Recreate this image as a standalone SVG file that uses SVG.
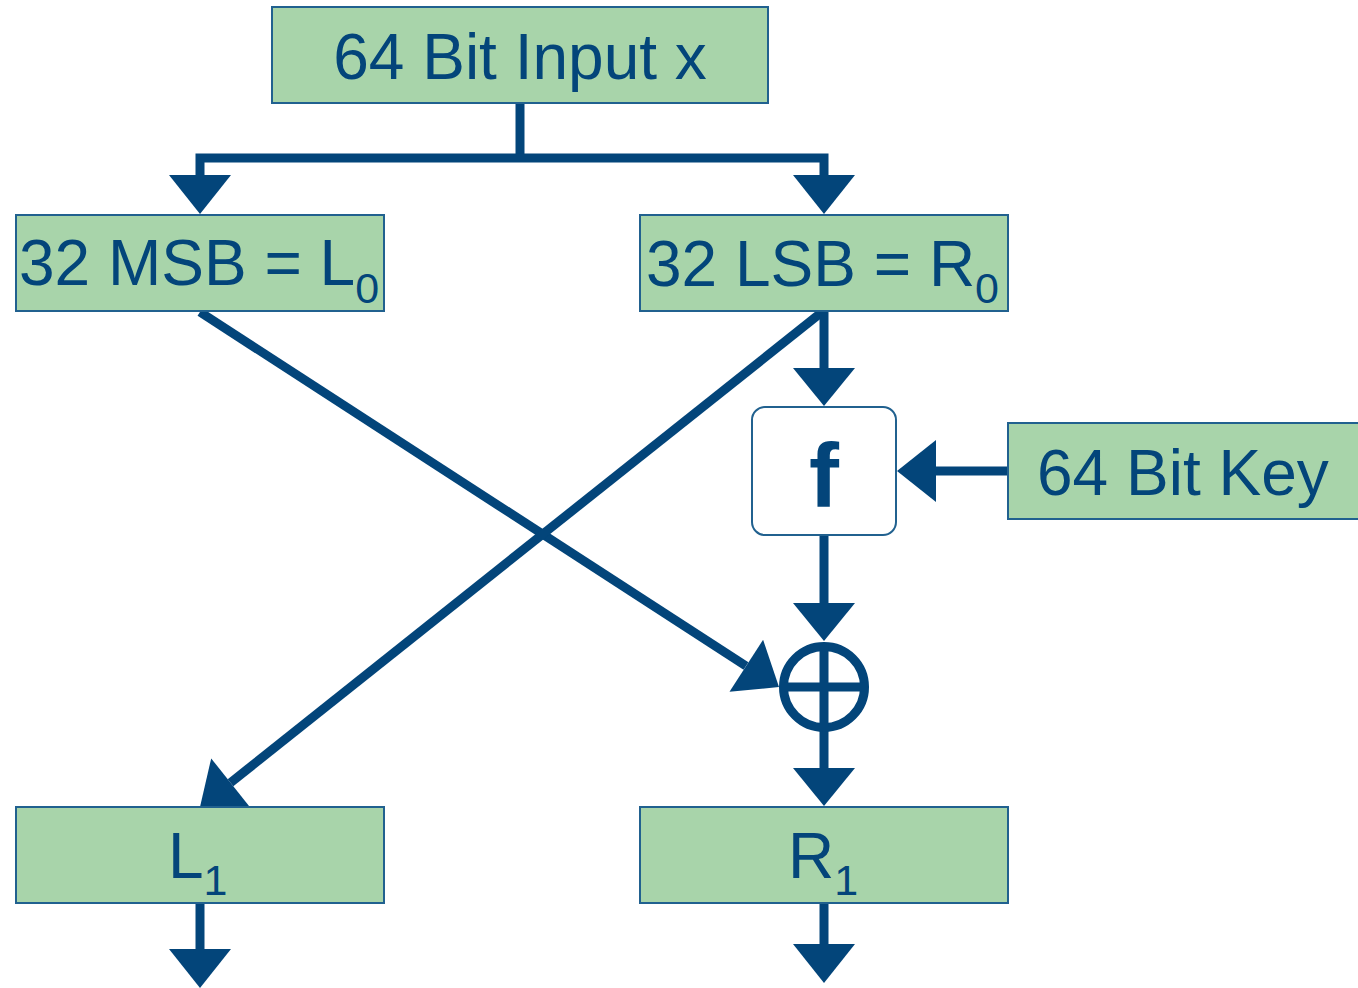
<svg xmlns="http://www.w3.org/2000/svg" width="1358" height="988" viewBox="0 0 1358 988">
<style>
.box{fill:#a8d4aa;stroke:#21618f;stroke-width:2}
.fbox{fill:#ffffff;stroke:#21618f;stroke-width:2}
.t{font-family:"Liberation Sans",Arial,sans-serif;font-size:64px;fill:#03457a}
.sub{font-size:43px}
.ln{fill:none;stroke:#03457a;stroke-width:9;stroke-linejoin:miter}
.ah{fill:#03457a;stroke:none}
</style>
<rect width="1358" height="988" fill="#ffffff"/>
<g id="connectors">
  <path class="ln" d="M520,103 V158"/>
  <path class="ln" d="M200,176 V158 H824 V176"/>
  <polygon class="ah" points="169,175 231,175 200,214"/>
  <polygon class="ah" points="793,175 855,175 824,214"/>
  <path class="ln" d="M200,312 L746,666"/>
  <polygon class="ah" points="779,687 729.5,691.8 763.1,639.8"/>
  <path class="ln" d="M822,312 L230.5,782.7"/>
  <polygon class="ah" points="200,807 249.8,807 211.2,758.4"/>
  <path class="ln" d="M824,311 V369"/>
  <polygon class="ah" points="793,368 855,368 824,406"/>
  <path class="ln" d="M1008,471 H935"/>
  <polygon class="ah" points="936,440 936,502 897,471"/>
  <path class="ln" d="M824,535 V604"/>
  <polygon class="ah" points="793,603 855,603 824,641"/>
  <path class="ln" d="M824,731 V769"/>
  <polygon class="ah" points="793,768 855,768 824,806"/>
  <path class="ln" d="M200,903 V950"/>
  <polygon class="ah" points="169,949 231,949 200,988"/>
  <path class="ln" d="M824,903 V945"/>
  <polygon class="ah" points="793,944 855,944 824,983"/>
</g>
<g id="input">
  <rect class="box" x="272" y="7" width="496" height="96"/>
  <text class="t" x="520" y="79" text-anchor="middle">64 Bit Input x</text>
</g>
<g id="L0">
  <rect class="box" x="16" y="215" width="368" height="96"/>
  <text class="t" x="19" y="285">32 MSB = L<tspan class="sub" dy="18">0</tspan></text>
</g>
<g id="R0">
  <rect class="box" x="640" y="215" width="368" height="96"/>
  <text class="t" x="646" y="286">32 LSB = R<tspan class="sub" dy="17">0</tspan></text>
</g>
<g id="f">
  <rect class="fbox" x="752" y="407" width="144" height="128" rx="13" ry="13"/>
  <text class="t" x="824" y="507" text-anchor="middle" style="font-size:90px;font-weight:bold">f</text>
</g>
<g id="key">
  <rect class="box" x="1008" y="423" width="354" height="96"/>
  <text class="t" x="1037" y="495">64 Bit Key</text>
</g>
<g id="xor">
  <circle cx="824" cy="687" r="40.5" fill="none" stroke="#03457a" stroke-width="9"/>
  <path class="ln" d="M784,687 H864 M824,647 V727"/>
</g>
<g id="L1">
  <rect class="box" x="16" y="807" width="368" height="96"/>
  <text class="t" x="168" y="878">L<tspan class="sub" dy="17">1</tspan></text>
</g>
<g id="R1">
  <rect class="box" x="640" y="807" width="368" height="96"/>
  <text class="t" x="788" y="878">R<tspan class="sub" dy="17">1</tspan></text>
</g>
</svg>
